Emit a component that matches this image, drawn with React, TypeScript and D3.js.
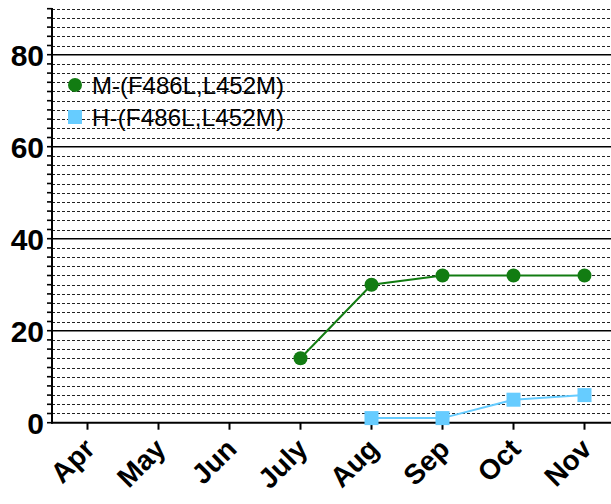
import React, { useEffect, useRef } from "react";
import * as d3 from "d3";

const months = ["Apr", "May", "Jun", "July", "Aug", "Sep", "Oct", "Nov"];
const mMonths = ["July", "Aug", "Sep", "Oct", "Nov"];
const mValues = [14, 30, 32, 32, 32];
const hMonths = ["Aug", "Sep", "Oct", "Nov"];
const hValues = [1, 1, 5, 6];
const yTicks = [0, 20, 40, 60, 80];

const App = () => {
  const svgRef = useRef<SVGSVGElement>(null);

  useEffect(() => {
    const svg = d3.select(svgRef.current);
    svg.selectAll("*").remove();

    const width = 611;
    const left = 52;
    const top = 8;
    const bottom = 422.7;

    const x = d3.scaleBand().domain(months).range([left, left + 8 * 71]);
    const cx = (m: string) => (x(m) as number) + x.bandwidth() / 2;
    const y = d3.scaleLinear().domain([0, 90]).range([bottom, top + 0.7]);

    const font = "Arial, 'Liberation Sans', sans-serif";

    // grid lines
    const minor = d3.range(2, 91, 2).filter((v) => v % 20 !== 0);
    svg
      .append("g")
      .selectAll("line")
      .data(minor)
      .enter()
      .append("line")
      .attr("x1", left)
      .attr("x2", width)
      .attr("y1", (d) => Math.round(y(d)) + 0.5)
      .attr("y2", (d) => Math.round(y(d)) + 0.5)
      .attr("stroke", "#222")
      .attr("stroke-width", 1)
      .attr("stroke-dasharray", "3,2");

    svg
      .append("g")
      .selectAll("line")
      .data(yTicks.filter((d) => d > 0))
      .enter()
      .append("line")
      .attr("x1", left)
      .attr("x2", width)
      .attr("y1", (d) => y(d))
      .attr("y2", (d) => y(d))
      .attr("stroke", "#000")
      .attr("stroke-width", 1.6);

    // y axis
    const yAxis = svg.append("g").attr("transform", `translate(${left},0)`);
    yAxis
      .append("line")
      .attr("x1", 0)
      .attr("x2", 0)
      .attr("y1", top)
      .attr("y2", bottom + 1)
      .attr("stroke", "#000")
      .attr("stroke-width", 2);
    yAxis
      .selectAll(".minor")
      .data(d3.range(0, 91, 2))
      .enter()
      .append("line")
      .attr("x1", -5)
      .attr("x2", 0)
      .attr("y1", (d) => y(d))
      .attr("y2", (d) => y(d))
      .attr("stroke", "#000")
      .attr("stroke-width", 1.6);
    yAxis
      .selectAll("text")
      .data(yTicks)
      .enter()
      .append("text")
      .attr("x", -8)
      .attr("y", (d) => y(d))
      .attr("dy", "0.36em")
      .attr("text-anchor", "end")
      .attr("font-family", font)
      .attr("font-weight", "bold")
      .attr("font-size", 30)
      .text((d) => d);

    // x axis
    const xAxis = svg.append("g").attr("transform", `translate(0,${bottom})`);
    xAxis
      .append("line")
      .attr("x1", left - 1)
      .attr("x2", width)
      .attr("y1", 0)
      .attr("y2", 0)
      .attr("stroke", "#000")
      .attr("stroke-width", 2);
    xAxis
      .selectAll(".tick")
      .data(months)
      .enter()
      .append("line")
      .attr("x1", (d) => cx(d))
      .attr("x2", (d) => cx(d))
      .attr("y1", 0)
      .attr("y2", 7)
      .attr("stroke", "#000")
      .attr("stroke-width", 2);
    xAxis
      .selectAll("text")
      .data(months)
      .enter()
      .append("text")
      .attr("transform", (d) => `translate(${cx(d) - 5},${14}) rotate(-45)`)
      .attr("text-anchor", "end")
      .attr("dy", "0.7em")
      .attr("font-family", font)
      .attr("font-weight", "bold")
      .attr("font-size", 28)
      .text((d) => d);

    const green = "#127c12";
    const blue = "#66ccff";

    const mData = mMonths.map((m, i) => ({ m, v: mValues[i] }));
    const hData = hMonths.map((m, i) => ({ m, v: hValues[i] }));
    const line = d3
      .line<{ m: string; v: number }>()
      .x((d) => cx(d.m))
      .y((d) => y(d.v));

    svg
      .append("path")
      .datum(mData)
      .attr("d", line)
      .attr("fill", "none")
      .attr("stroke", green)
      .attr("stroke-width", 2);
    svg
      .append("g")
      .selectAll("circle")
      .data(mData)
      .enter()
      .append("circle")
      .attr("cx", (d) => cx(d.m))
      .attr("cy", (d) => y(d.v))
      .attr("r", 7)
      .attr("fill", green);

    svg
      .append("path")
      .datum(hData)
      .attr("d", line)
      .attr("fill", "none")
      .attr("stroke", blue)
      .attr("stroke-width", 2);
    svg
      .append("g")
      .selectAll("rect")
      .data(hData)
      .enter()
      .append("rect")
      .attr("x", (d) => cx(d.m) - 7)
      .attr("y", (d) => y(d.v) - 7)
      .attr("width", 14)
      .attr("height", 14)
      .attr("fill", blue);

    // legend
    const legend = svg.append("g").attr("font-family", font).attr("font-size", 24);
    legend.append("circle").attr("cx", 75).attr("cy", 85).attr("r", 7).attr("fill", green);
    legend
      .append("text")
      .attr("x", 92)
      .attr("y", 85)
      .attr("dy", "0.36em")
      .attr("textLength", 192)
      .text("M-(F486L,L452M)");
    legend.append("rect").attr("x", 68).attr("y", 110).attr("width", 14).attr("height", 14).attr("fill", blue);
    legend
      .append("text")
      .attr("x", 92)
      .attr("y", 117)
      .attr("dy", "0.36em")
      .attr("textLength", 192)
      .text("H-(F486L,L452M)");
  }, []);

  return (
    <svg
      ref={svgRef}
      width={611}
      height={504}
      style={{ position: "absolute", left: 0, top: 0, background: "#fff" }}
    ></svg>
  );
};

export default App;
